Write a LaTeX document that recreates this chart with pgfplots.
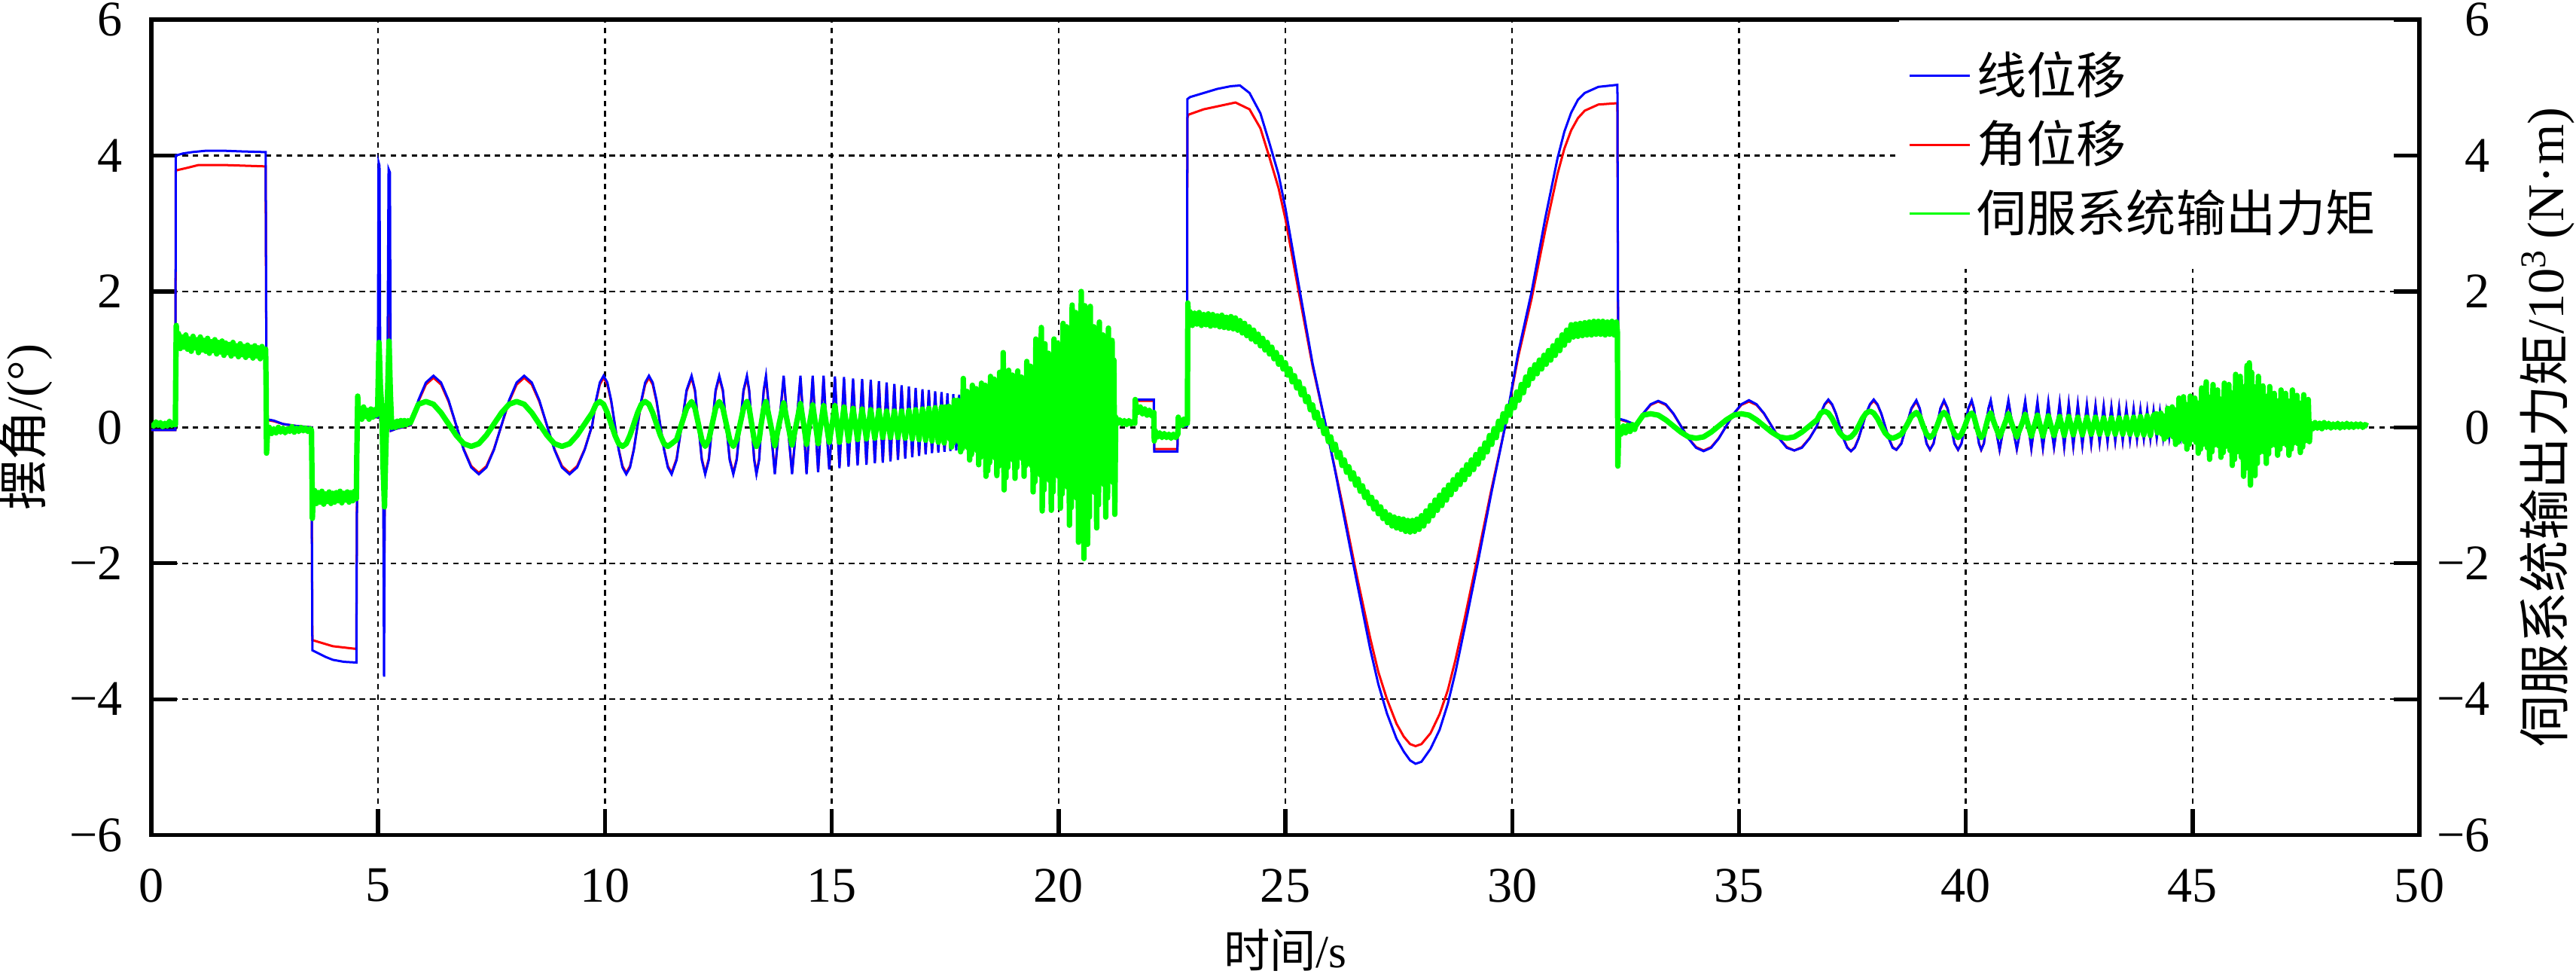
\documentclass[border=0pt]{standalone}
\usepackage{fontspec}
\setmainfont{Liberation Serif}
\newfontfamily\cjk{Noto Sans CJK SC}
\usepackage{pgfplots}
\pgfplotsset{compat=1.18}
\definecolor{cblue}{RGB}{0,0,255}
\definecolor{cred}{RGB}{255,0,0}
\definecolor{cgreen}{RGB}{0,255,0}
\begin{document}
\begin{tikzpicture}
\path[use as bounding box] (-1.175cm,-1.076cm) rectangle (18.826cm,6.482cm);
\begin{axis}[
  at={(0,0)}, anchor=south west,
  scale only axis, width=17.61cm, height=6.33cm,
  xmin=0, xmax=50, ymin=-6, ymax=6,
  xtick={0,5,...,50}, xticklabels={0,5,10,15,20,25,30,35,40,45,50},
  ytick={-6,-4,...,6}, yticklabels={−6,−4,−2,0,2,4,6},
  xtick pos=lower, ytick pos=left, tick align=inside,
  major tick length=0.2cm,
  axis line style={line width=0.9pt},
  every tick/.style={black, line width=0.9pt},
  grid=major,
  major grid style={black, line width=0.4pt, dash pattern=on 1.2pt off 1.1pt},
  tick label style={font=\fontsize{11}{13}\selectfont, inner sep=0pt},
  yticklabel style={xshift=-0.216cm},
  xticklabel style={yshift=-0.255cm},
  xlabel={{\cjk 时间}/s}, ylabel={{\cjk 摆角}/(°)},
  every axis x label/.style={at={(axis description cs:0.5,-0.1414)}, anchor=center, font=\fontsize{10.2}{12}\selectfont},
  every axis y label/.style={at={(axis description cs:-0.0551,0.5)}, anchor=center, rotate=90, font=\fontsize{11}{13}\selectfont},
  legend style={draw=none, fill=white, at={(1,1)}, anchor=north east, inner xsep=0.07cm, inner ysep=0.24cm, row sep=4.4pt, font=\cjk\fontsize{11}{13}\selectfont, nodes={inner ysep=0pt, inner xsep=0.045cm, font=\cjk\fontsize{11}{13}\selectfont}},
  legend cell align=left,
  legend image code/.code={\draw[#1] (0cm,0cm) -- (0.47cm,0cm);},
]
% red: angular displacement (drawn first, under blue)
\addplot[cred, line width=0.5pt, forget plot] coordinates {
(0,-0.04)(0.53,-0.04)(0.54,3.78)(0.8,3.82)(1.04,3.86)(1.6,3.86)(2.52,3.84)(2.54,0.11)(2.7,0.09)(2.9,0.05)(3.2,0.02)(3.53,0.0)(3.55,-3.13)(3.8,-3.18)(4.0,-3.22)(4.52,-3.26)(4.54,0.15)(4.99,0.15)(5.01,2.0)(5.03,1.9)(5.05,0.1)(5.11,-0.2)(5.13,-2.9)(5.15,-0.3)(5.2,0.0)(5.23,2.0)(5.26,1.9)(5.28,-0.05)(5.4,-0.02)
(5.72,0.03)(5.887,0.38)(6.053,0.63)(6.22,0.73)(6.387,0.63)(6.553,0.38)(6.72,0.03)(6.887,-0.32)(7.053,-0.57)(7.22,-0.67)(7.387,-0.57)(7.553,-0.32)
(7.72,0.03)(7.887,0.38)(8.053,0.63)(8.22,0.73)(8.387,0.63)(8.553,0.38)(8.72,0.03)(8.887,-0.32)(9.053,-0.57)(9.22,-0.67)(9.387,-0.57)(9.553,-0.32)
(9.72,0.03)(9.803,0.38)(9.887,0.63)(9.97,0.73)(10.053,0.63)(10.137,0.38)(10.22,0.03)(10.303,-0.32)(10.387,-0.57)(10.47,-0.67)(10.553,-0.57)(10.637,-0.32)
(10.72,0.03)(10.803,0.38)(10.887,0.63)(10.97,0.73)(11.053,0.63)(11.137,0.38)(11.22,0.03)(11.303,-0.32)(11.387,-0.57)(11.47,-0.67)
(11.58,-0.46)(11.69,0.03)(11.80,0.53)(11.91,0.73)(11.985,0.53)(12.06,0.03)(12.135,-0.46)(12.21,-0.67)(12.29,-0.46)(12.365,0.03)(12.44,0.53)(12.52,0.73)(12.60,0.53)(12.675,0.03)(12.75,-0.46)(12.83,-0.67)(12.905,-0.46)(12.98,0.03)(13.055,0.53)(13.13,0.73)(13.18,0.53)(13.235,0.03)(13.29,-0.46)(13.34,-0.67)(13.40,-0.46)(13.445,0.03)(13.50,0.53)(13.55,0.73)
(13.65,0.03)(13.745,-0.67)(13.84,0.03)(13.94,0.73)(14.03,0.03)(14.125,-0.67)(14.22,0.03)(14.31,0.73)(14.38,0.03)(14.445,-0.67)(14.51,0.03)(14.58,0.73)(14.64,0.03)(14.70,-0.64)(14.76,0.03)(14.82,0.73)(14.88,0.03)(14.945,-0.6)(15.01,0.03)
(15.07,0.72)(15.17,-0.58)(15.27,0.71)(15.37,-0.56)(15.47,0.69)(15.57,-0.54)(15.67,0.68)(15.765,-0.53)(15.86,0.67)(15.95,-0.51)(16.04,0.65)(16.125,-0.5)(16.21,0.63)(16.295,-0.48)(16.38,0.61)(16.46,-0.46)(16.54,0.59)(16.62,-0.44)(16.70,0.57)(16.775,-0.42)(16.85,0.55)(16.925,-0.4)(17.00,0.53)(17.07,-0.38)(17.14,0.52)(17.21,-0.36)(17.28,0.5)(17.35,-0.35)(17.42,0.49)(17.485,-0.34)(17.55,0.1)(21.0,0.07)(21.68,0.07)
(21.69,0.39)(22.1,0.39)(22.11,-0.32)(22.62,-0.32)(22.63,0.0)(22.83,0.02)
(22.84,4.55)(22.86,4.6)(23.2,4.68)(23.9,4.78)(24.21,4.68)(24.45,4.4)(24.65,3.97)(24.85,3.52)(25.0,3.07)(25.32,1.9)(25.6,0.9)(25.9,0.0)(26.28,-1.2)(26.58,-2.2)(26.87,-3.1)(27.05,-3.6)(27.24,-4.0)(27.45,-4.36)(27.61,-4.55)(27.75,-4.66)(27.87,-4.69)(28.0,-4.66)(28.2,-4.5)(28.4,-4.22)(28.58,-3.87)(28.75,-3.42)(28.95,-2.82)(29.24,-1.9)(29.54,-0.92)(29.84,0.0)(30.13,1.03)(30.43,1.9)(30.73,2.9)(31.0,3.73)(31.15,4.1)(31.3,4.37)(31.45,4.55)(31.6,4.66)(31.9,4.75)(32.32,4.77)(32.34,0.12)(32.5,0.09)
(32.72,0.04)(32.887,0.2)(33.053,0.33)(33.22,0.38)(33.387,0.33)(33.553,0.2)(33.72,0.02)(33.887,-0.16)(34.053,-0.29)(34.22,-0.34)(34.387,-0.29)(34.553,-0.16)
(34.72,0.02)(34.887,0.2)(35.053,0.33)(35.22,0.38)(35.387,0.33)(35.553,0.2)(35.72,0.02)(35.887,-0.16)(36.053,-0.29)(36.22,-0.34)(36.387,-0.29)(36.553,-0.16)
(36.72,0.02)(36.803,0.2)(36.887,0.33)(36.97,0.39)(37.053,0.33)(37.137,0.2)(37.22,0.02)(37.303,-0.16)(37.387,-0.29)(37.47,-0.35)(37.553,-0.29)(37.637,-0.16)
(37.72,0.02)(37.803,0.2)(37.887,0.33)(37.97,0.39)(38.053,0.33)(38.137,0.2)(38.22,0.02)(38.303,-0.16)(38.387,-0.29)(38.47,-0.33)
(38.58,-0.23)(38.69,0.02)(38.80,0.27)(38.91,0.38)(38.985,0.27)(39.06,0.02)(39.135,-0.23)(39.21,-0.33)(39.29,-0.23)(39.365,0.02)(39.44,0.27)(39.52,0.38)(39.60,0.27)(39.675,0.02)(39.75,-0.23)(39.83,-0.33)(39.905,-0.23)(39.98,0.02)(40.055,0.27)(40.13,0.38)(40.18,0.27)(40.235,0.02)(40.29,-0.23)(40.34,-0.33)(40.40,-0.23)(40.445,0.02)(40.50,0.27)(40.55,0.38)
(40.65,0.02)(40.745,-0.33)(40.84,0.02)(40.94,0.38)(41.03,0.02)(41.125,-0.32)(41.22,0.02)(41.31,0.37)(41.38,0.02)(41.445,-0.31)(41.51,0.02)(41.58,0.36)(41.64,0.02)(41.70,-0.3)(41.76,0.02)(41.82,0.35)(41.88,0.02)(41.945,-0.29)(42.01,0.02)
(42.07,0.35)(42.17,-0.28)(42.27,0.34)(42.37,-0.27)(42.47,0.33)(42.57,-0.26)(42.67,0.32)(42.765,-0.24)(42.86,0.31)(42.95,-0.22)(43.04,0.3)(43.125,-0.21)(43.21,0.29)(43.295,-0.2)(43.38,0.28)(43.46,-0.19)(43.54,0.27)(43.62,-0.18)(43.70,0.26)(43.775,-0.17)(43.85,0.25)(43.925,-0.16)(44.00,0.24)(44.07,-0.16)(44.14,0.23)(44.21,-0.15)(44.28,0.22)(44.35,-0.15)(44.42,0.21)(44.485,-0.14)(44.55,0.2)(44.615,-0.14)(44.68,0.19)(44.745,-0.13)(44.81,0.18)(44.875,-0.12)(44.94,0.14)(45.0,0.02)(48.86,0.02)
};
% blue: linear displacement
\addplot[cblue, line width=0.5pt, forget plot] coordinates {
(0,-0.04)(0.53,-0.04)(0.54,4.0)(0.7,4.03)(0.9,4.05)(1.2,4.07)(1.6,4.07)(2.0,4.06)(2.52,4.05)(2.54,0.12)(2.7,0.1)(2.9,0.05)(3.2,0.02)(3.53,0.0)(3.55,-3.28)(3.7,-3.33)(3.85,-3.38)(4.0,-3.42)(4.25,-3.45)(4.52,-3.46)(4.54,0.15)(4.99,0.15)(5.01,3.9)(5.03,3.85)(5.05,0.1)(5.11,-0.2)(5.13,-3.67)(5.15,-0.4)(5.2,0.0)(5.23,3.8)(5.26,3.75)(5.28,-0.05)(5.4,-0.02)
(5.72,0.035)(5.887,0.40)(6.053,0.66)(6.22,0.76)(6.387,0.66)(6.553,0.40)(6.72,0.035)(6.887,-0.33)(7.053,-0.59)(7.22,-0.69)(7.387,-0.59)(7.553,-0.33)
(7.72,0.035)(7.887,0.40)(8.053,0.66)(8.22,0.76)(8.387,0.66)(8.553,0.40)(8.72,0.035)(8.887,-0.33)(9.053,-0.59)(9.22,-0.69)(9.387,-0.59)(9.553,-0.33)
(9.72,0.035)(9.803,0.40)(9.887,0.66)(9.97,0.76)(10.053,0.66)(10.137,0.40)(10.22,0.035)(10.303,-0.33)(10.387,-0.59)(10.47,-0.69)(10.553,-0.59)(10.637,-0.33)
(10.72,0.035)(10.803,0.40)(10.887,0.66)(10.97,0.76)(11.053,0.66)(11.137,0.40)(11.22,0.035)(11.303,-0.33)(11.387,-0.59)(11.47,-0.69)
(11.58,-0.48)(11.69,0.035)(11.80,0.55)(11.91,0.76)(11.985,0.55)(12.06,0.035)(12.135,-0.48)(12.21,-0.69)(12.29,-0.48)(12.365,0.035)(12.44,0.55)(12.52,0.76)(12.60,0.55)(12.675,0.035)(12.75,-0.48)(12.83,-0.69)(12.905,-0.48)(12.98,0.035)(13.055,0.55)(13.13,0.76)(13.18,0.55)(13.235,0.035)(13.29,-0.48)(13.34,-0.69)(13.40,-0.48)(13.445,0.035)(13.50,0.55)(13.55,0.76)
(13.65,0.035)(13.745,-0.69)(13.84,0.035)(13.94,0.76)(14.03,0.035)(14.125,-0.69)(14.22,0.035)(14.31,0.76)(14.38,0.035)(14.445,-0.69)(14.51,0.035)(14.58,0.76)(14.64,0.035)(14.70,-0.66)(14.76,0.035)(14.82,0.76)(14.88,0.035)(14.945,-0.62)(15.01,0.035)
(15.07,0.75)(15.17,-0.60)(15.27,0.74)(15.37,-0.58)(15.47,0.72)(15.57,-0.56)(15.67,0.71)(15.765,-0.55)(15.86,0.70)(15.95,-0.53)(16.04,0.68)(16.125,-0.52)(16.21,0.66)(16.295,-0.50)(16.38,0.64)(16.46,-0.48)(16.54,0.62)(16.62,-0.46)(16.70,0.60)(16.775,-0.44)(16.85,0.58)(16.925,-0.42)(17.00,0.56)(17.07,-0.40)(17.14,0.55)(17.21,-0.38)(17.28,0.53)(17.35,-0.37)(17.42,0.52)(17.485,-0.36)(17.55,0.50)(17.615,-0.35)(17.68,0.49)(17.745,-0.34)(17.81,0.48)(17.875,-0.33)(17.94,0.47)(18.00,-0.32)(18.06,0.46)(18.12,-0.31)(18.18,0.45)(18.24,-0.30)(18.30,0.44)(18.36,-0.30)(18.42,0.43)(18.48,-0.29)(18.54,0.42)(18.60,-0.28)(18.66,0.41)(18.72,-0.28)(18.78,0.40)(18.84,-0.27)(18.90,0.39)(18.96,-0.26)(19.02,0.38)(19.08,-0.25)(19.14,0.37)(19.20,-0.24)(19.26,0.35)(19.32,-0.23)(19.38,0.33)(19.44,-0.22)(19.50,0.30)(19.56,-0.2)(19.62,0.28)(19.68,-0.18)(19.74,0.25)(19.8,-0.16)(19.9,0.2)(20.0,-0.12)(20.1,0.18)(20.2,-0.1)(20.3,0.15)(20.4,-0.08)(20.5,0.14)(20.6,-0.06)(20.8,0.1)(21.0,0.04)(21.3,0.07)(21.68,0.07)
(21.69,0.41)(22.1,0.41)(22.11,-0.355)(22.62,-0.355)(22.63,0.0)(22.83,0.02)
(22.84,4.83)(22.9,4.86)(23.2,4.92)(23.5,4.98)(23.8,5.02)(24.0,5.03)(24.21,4.92)(24.45,4.62)(24.65,4.18)(24.85,3.72)(25.0,3.23)(25.32,2.0)(25.6,0.94)(25.9,0.0)(26.1,-0.65)(26.28,-1.27)(26.58,-2.29)(26.87,-3.26)(27.05,-3.78)(27.24,-4.21)(27.45,-4.58)(27.61,-4.77)(27.75,-4.9)(27.87,-4.95)(28.0,-4.92)(28.2,-4.73)(28.4,-4.45)(28.58,-4.07)(28.75,-3.6)(28.95,-2.96)(29.24,-2.0)(29.54,-0.97)(29.84,0.0)(30.13,1.09)(30.43,2.0)(30.73,3.08)(31.0,3.96)(31.15,4.35)(31.3,4.63)(31.45,4.82)(31.6,4.92)(31.9,5.01)(32.32,5.04)
(32.34,0.13)(32.5,0.1)
(32.72,0.04)(32.887,0.205)(33.053,0.34)(33.22,0.39)(33.387,0.34)(33.553,0.205)(33.72,0.02)(33.887,-0.165)(34.053,-0.30)(34.22,-0.35)(34.387,-0.30)(34.553,-0.165)
(34.72,0.02)(34.887,0.205)(35.053,0.34)(35.22,0.40)(35.387,0.34)(35.553,0.205)(35.72,0.02)(35.887,-0.165)(36.053,-0.30)(36.22,-0.34)(36.387,-0.30)(36.553,-0.165)
(36.72,0.02)(36.803,0.205)(36.887,0.34)(36.97,0.41)(37.053,0.34)(37.137,0.205)(37.22,0.02)(37.303,-0.165)(37.387,-0.30)(37.47,-0.35)(37.553,-0.30)(37.637,-0.165)
(37.72,0.02)(37.803,0.205)(37.887,0.34)(37.97,0.41)(38.053,0.34)(38.137,0.205)(38.22,0.02)(38.303,-0.165)(38.387,-0.30)(38.47,-0.33)
(38.58,-0.24)(38.69,0.02)(38.80,0.28)(38.91,0.40)(38.985,0.28)(39.06,0.02)(39.135,-0.24)(39.21,-0.33)(39.29,-0.24)(39.365,0.02)(39.44,0.28)(39.52,0.40)(39.60,0.28)(39.675,0.02)(39.75,-0.24)(39.83,-0.33)(39.905,-0.24)(39.98,0.02)(40.055,0.28)(40.13,0.40)(40.18,0.28)(40.235,0.02)(40.29,-0.24)(40.34,-0.33)(40.40,-0.24)(40.445,0.02)(40.50,0.28)(40.55,0.40)
(40.65,0.02)(40.745,-0.33)(40.84,0.02)(40.94,0.40)(41.03,0.02)(41.125,-0.32)(41.22,0.02)(41.31,0.39)(41.38,0.02)(41.445,-0.31)(41.51,0.02)(41.58,0.38)(41.64,0.02)(41.70,-0.30)(41.76,0.02)(41.82,0.37)(41.88,0.02)(41.945,-0.29)(42.01,0.02)
(42.07,0.36)(42.17,-0.28)(42.27,0.35)(42.37,-0.27)(42.47,0.34)(42.57,-0.26)(42.67,0.33)(42.765,-0.24)(42.86,0.32)(42.95,-0.22)(43.04,0.31)(43.125,-0.21)(43.21,0.30)(43.295,-0.20)(43.38,0.29)(43.46,-0.19)(43.54,0.28)(43.62,-0.18)(43.70,0.27)(43.775,-0.17)(43.85,0.26)(43.925,-0.16)(44.00,0.25)(44.07,-0.16)(44.14,0.24)(44.21,-0.15)(44.28,0.23)(44.35,-0.15)(44.42,0.22)(44.485,-0.14)(44.55,0.21)(44.615,-0.14)(44.68,0.20)(44.745,-0.13)(44.81,0.19)(44.875,-0.12)(44.94,0.15)(45.0,0.02)(48.86,0.02)
};
% green: servo output torque
\addplot[cgreen, line width=1.2pt, line join=round, forget plot] coordinates {
(0,0.06)(0.05,0.02)(0.1,0.08)(0.15,0.03)(0.2,0.07)(0.25,0.01)(0.3,0.06)(0.35,0.02)(0.4,0.09)(0.45,0.03)(0.5,0.07)(0.53,0.04)(0.54,0.9)(0.55,1.5)(0.57,1.2)
(0.60,1.38)(0.64,1.16)(0.68,1.33)(0.72,1.18)(0.76,1.36)(0.80,1.15)(0.84,1.30)(0.88,1.12)(0.92,1.34)(0.96,1.17)(1.00,1.29)(1.04,1.10)(1.08,1.33)(1.12,1.14)(1.16,1.28)(1.20,1.12)(1.24,1.31)(1.28,1.09)(1.32,1.26)(1.36,1.13)(1.40,1.29)(1.44,1.08)(1.48,1.25)(1.52,1.11)(1.56,1.27)(1.60,1.06)(1.64,1.24)(1.68,1.10)(1.72,1.22)(1.76,1.05)(1.80,1.25)(1.84,1.08)(1.88,1.20)(1.92,1.04)(1.96,1.23)(2.00,1.07)(2.04,1.19)(2.08,1.03)(2.12,1.21)(2.16,1.06)(2.20,1.18)(2.24,1.02)(2.28,1.20)(2.32,1.05)(2.36,1.17)(2.40,1.01)(2.44,1.19)(2.48,1.04)(2.52,1.15)
(2.53,0.6)(2.54,-0.38)(2.56,-0.1)
(2.60,0.0)(2.65,-0.09)(2.70,-0.02)(2.75,-0.08)(2.80,0.0)(2.85,-0.07)(2.90,-0.01)(2.95,-0.08)(3.00,-0.02)(3.05,-0.06)(3.10,0.01)(3.15,-0.07)(3.20,-0.01)(3.25,-0.06)(3.30,0.0)(3.35,-0.05)(3.40,-0.01)(3.45,-0.06)(3.50,-0.02)(3.53,-0.04)
(3.54,-0.6)(3.55,-1.34)(3.57,-1.0)
(3.60,-0.93)(3.64,-1.12)(3.68,-0.96)(3.72,-1.10)(3.76,-0.94)(3.80,-1.13)(3.84,-0.98)(3.88,-1.09)(3.92,-0.95)(3.96,-1.12)(4.00,-0.97)(4.04,-1.10)(4.08,-0.96)(4.12,-1.08)(4.16,-0.94)(4.20,-1.11)(4.24,-0.97)(4.28,-1.07)(4.32,-0.95)(4.36,-1.10)(4.40,-0.96)(4.44,-1.08)(4.48,-0.94)(4.52,-1.05)
(4.53,-0.4)(4.55,0.46)(4.57,0.15)
(4.60,0.28)(4.64,0.12)(4.68,0.30)(4.72,0.16)(4.76,0.25)(4.80,0.12)(4.84,0.27)(4.88,0.15)(4.92,0.26)(4.96,0.18)(4.99,0.3)
(5.02,1.25)(5.05,0.6)(5.08,0.3)(5.11,-0.6)(5.14,-1.17)(5.17,-0.3)(5.2,0.3)(5.24,1.27)(5.27,0.5)(5.3,0.0)
(5.34,0.08)(5.38,0.0)(5.42,0.09)(5.46,0.02)(5.50,0.1)(5.54,0.03)(5.58,0.1)(5.62,0.04)(5.66,0.1)(5.70,0.06)
(5.72,0.08)(5.887,0.34)(6.053,0.38)(6.22,0.34)(6.387,0.215)(6.553,0.05)(6.72,-0.115)(6.887,-0.24)(7.053,-0.28)(7.22,-0.24)(7.387,-0.115)(7.553,0.05)
(7.72,0.215)(7.887,0.34)(8.053,0.38)(8.22,0.34)(8.387,0.215)(8.553,0.05)(8.72,-0.115)(8.887,-0.24)(9.053,-0.28)(9.22,-0.24)(9.387,-0.115)(9.553,0.05)
(9.72,0.215)(9.803,0.34)(9.887,0.38)(9.97,0.34)(10.053,0.215)(10.137,0.05)(10.22,-0.115)(10.303,-0.24)(10.387,-0.28)(10.47,-0.24)(10.553,-0.115)(10.637,0.05)
(10.72,0.215)(10.803,0.34)(10.887,0.38)(10.97,0.34)(11.053,0.215)(11.137,0.05)(11.22,-0.115)(11.303,-0.24)(11.387,-0.28)(11.47,-0.24)
(11.58,-0.18)(11.69,0.05)(11.80,0.28)(11.91,0.38)(11.985,0.28)(12.06,0.05)(12.135,-0.18)(12.21,-0.28)(12.29,-0.18)(12.365,0.05)(12.44,0.28)(12.52,0.38)(12.60,0.28)(12.675,0.05)(12.75,-0.18)(12.83,-0.28)(12.905,-0.18)(12.98,0.05)(13.055,0.28)(13.13,0.38)(13.18,0.28)(13.235,0.05)(13.29,-0.18)(13.34,-0.28)(13.40,-0.18)(13.445,0.05)(13.50,0.28)(13.55,0.38)
(13.65,0.05)(13.745,-0.27)(13.84,0.05)(13.94,0.36)(14.03,0.05)(14.125,-0.26)(14.22,0.05)(14.31,0.35)(14.38,0.05)(14.445,-0.25)(14.51,0.05)(14.58,0.33)(14.64,0.05)(14.70,-0.24)(14.76,0.05)(14.82,0.32)(14.88,0.05)(14.945,-0.22)(15.01,0.05)
(15.07,0.32)(15.17,-0.22)(15.27,0.3)(15.37,-0.2)(15.47,0.28)(15.57,-0.18)(15.67,0.27)(15.765,-0.17)(15.86,0.26)(15.95,-0.16)(16.04,0.25)(16.125,-0.15)(16.21,0.24)(16.295,-0.15)(16.38,0.24)(16.46,-0.15)(16.54,0.24)(16.62,-0.16)(16.70,0.25)(16.775,-0.17)(16.85,0.26)(16.925,-0.18)(17.00,0.27)(17.07,-0.19)(17.14,0.28)(17.21,-0.2)(17.28,0.29)(17.35,-0.22)(17.42,0.3)(17.48,-0.23)
(17.50,0.30)(17.52,-0.14)(17.54,0.26)(17.56,-0.12)(17.58,0.31)(17.60,-0.17)(17.62,0.25)(17.64,-0.29)(17.66,0.19)(17.68,-0.23)(17.70,0.40)(17.72,-0.18)(17.74,0.34)(17.76,-0.15)(17.78,0.40)(17.80,-0.21)(17.82,0.33)(17.84,-0.36)(17.86,0.25)(17.88,-0.31)(17.90,0.72)(17.92,-0.24)(17.94,0.45)(17.96,-0.21)(17.98,0.53)(18.00,-0.30)(18.02,0.42)(18.04,-0.48)(18.06,0.31)(18.08,-0.40)(18.10,0.62)(18.12,-0.30)(18.14,0.50)(18.16,-0.25)(18.18,0.57)(18.20,-0.34)(18.22,0.45)(18.24,-0.55)(18.26,0.32)(18.28,-0.44)(18.30,0.65)(18.32,-0.34)(18.34,0.54)(18.36,-0.28)(18.38,0.62)(18.40,-0.72)(18.42,0.50)(18.44,-0.64)(18.46,0.37)(18.48,-0.52)(18.50,0.75)(18.52,-0.39)(18.54,0.62)(18.56,-0.33)(18.58,0.71)(18.60,-0.45)(18.62,0.56)(18.64,-0.71)(18.66,0.40)(18.68,-0.57)(18.70,0.81)(18.72,-0.42)(18.74,0.66)(18.76,-0.35)(18.78,1.10)(18.80,-0.92)(18.82,0.58)(18.84,-0.74)(18.86,0.42)(18.88,-0.59)(18.90,0.84)(18.92,-0.43)(18.94,0.67)(18.96,-0.36)(18.98,0.77)(19.00,-0.48)(19.02,0.59)(19.04,-0.75)(19.06,0.42)(19.08,-0.59)(19.10,0.83)(19.12,-0.43)(19.14,0.66)(19.16,-0.35)(19.18,0.74)(19.20,-0.46)(19.22,0.57)(19.24,-0.72)(19.26,0.41)(19.28,-0.56)(19.30,0.97)(19.32,-0.43)(19.34,0.72)(19.36,-0.39)(19.38,0.90)(19.40,-0.56)(19.42,0.77)(19.44,-0.95)(19.46,0.60)(19.48,-0.80)(19.50,1.30)(19.52,-0.61)(19.54,1.03)(19.56,-0.51)(19.58,1.14)(19.60,-0.70)(19.62,1.47)(19.64,-1.23)(19.66,0.63)(19.68,-0.92)(19.70,1.23)(19.72,-0.69)(19.74,0.98)(19.76,-0.57)(19.78,1.09)(19.80,-0.78)(19.82,0.85)(19.84,-1.22)(19.86,0.63)(19.88,-0.95)(19.90,1.30)(19.92,-0.68)(19.94,1.07)(19.96,-0.55)(19.98,1.24)(20.00,-0.72)(20.02,1.00)(20.04,-1.19)(20.06,0.74)(20.08,-0.98)(20.10,1.53)(20.12,-0.75)(20.14,1.27)(20.16,-0.63)(20.18,1.48)(20.20,-0.88)(20.22,1.18)(20.24,-1.44)(20.26,0.88)(20.28,-1.18)(20.30,1.80)(20.32,-0.90)(20.34,1.47)(20.36,-0.76)(20.38,1.69)(20.40,-1.04)(20.42,1.34)(20.44,-1.69)(20.46,0.98)(20.48,-1.38)(20.50,2.00)(20.52,-1.04)(20.54,1.63)(20.56,-1.93)(20.58,1.79)(20.60,-1.12)(20.62,1.34)(20.64,-1.72)(20.66,0.93)(20.68,-1.32)(20.70,1.78)(20.72,-0.94)(20.74,1.37)(20.76,-0.74)(20.78,1.48)(20.80,-0.96)(20.82,1.11)(20.84,-1.48)(20.86,0.79)(20.88,-1.14)(20.90,1.55)(20.92,-0.81)(20.94,1.22)(20.96,-0.65)(20.98,1.36)(21.00,-0.84)(21.02,1.04)(21.04,-1.32)(21.06,0.74)(21.08,-1.04)(21.10,1.46)(21.12,-0.75)(21.14,1.15)(21.16,-0.61)(21.18,1.28)(21.20,-0.81)(21.22,0.99)(21.24,-1.28)
(21.26,0.15)(21.3,0.06)(21.35,0.11)(21.4,0.05)(21.45,0.1)(21.5,0.04)(21.55,0.1)(21.6,0.05)(21.65,0.09)(21.68,0.06)
(21.69,0.41)(21.71,0.3)(21.75,0.22)(21.8,0.3)(21.85,0.2)(21.9,0.27)(21.95,0.18)(22.0,0.25)(22.05,0.17)(22.1,0.22)
(22.11,-0.2)(22.13,-0.05)(22.18,-0.14)(22.23,-0.08)(22.28,-0.15)(22.33,-0.09)(22.38,-0.15)(22.43,-0.1)(22.48,-0.16)(22.53,-0.1)(22.58,-0.15)(22.63,-0.1)
(22.64,0.15)(22.67,0.04)(22.7,0.1)(22.73,0.03)(22.76,0.12)(22.79,0.05)(22.82,0.1)(22.84,0.06)
(22.85,1.83)(22.87,1.5)
(22.90,1.70)(22.95,1.50)(23.00,1.68)(23.05,1.52)(23.10,1.69)(23.15,1.50)(23.20,1.66)(23.25,1.51)(23.30,1.67)(23.35,1.49)(23.40,1.66)(23.45,1.50)(23.50,1.64)(23.55,1.48)(23.60,1.65)(23.65,1.47)(23.70,1.62)(23.75,1.46)(23.80,1.63)(23.85,1.45)(23.90,1.61)(23.95,1.43)
(24.00,1.57)(24.05,1.39)(24.10,1.53)(24.15,1.35)(24.20,1.48)(24.25,1.30)(24.30,1.43)(24.35,1.26)(24.40,1.37)(24.45,1.20)(24.50,1.31)(24.55,1.14)(24.60,1.25)(24.65,1.08)(24.70,1.18)(24.75,1.01)(24.80,1.10)(24.85,0.93)(24.90,1.03)(24.95,0.86)
(25.00,0.95)(25.05,0.77)(25.10,0.86)(25.15,0.67)(25.20,0.76)(25.25,0.58)(25.30,0.67)(25.35,0.48)(25.40,0.57)(25.45,0.38)(25.50,0.45)(25.55,0.26)(25.60,0.33)(25.65,0.14)(25.70,0.22)(25.75,0.03)(25.80,0.10)(25.85,-0.09)(25.90,-0.02)(25.95,-0.21)
(26.00,-0.14)(26.05,-0.33)(26.10,-0.25)(26.15,-0.44)(26.20,-0.37)(26.25,-0.56)(26.30,-0.48)(26.35,-0.66)(26.40,-0.58)(26.45,-0.76)(26.50,-0.67)(26.55,-0.85)(26.60,-0.76)(26.65,-0.94)(26.70,-0.86)(26.75,-1.03)(26.80,-0.95)(26.85,-1.12)(26.90,-1.03)(26.95,-1.20)
(27.00,-1.10)(27.05,-1.27)(27.10,-1.17)(27.15,-1.34)(27.20,-1.24)(27.25,-1.40)(27.30,-1.29)(27.35,-1.45)(27.40,-1.32)(27.45,-1.48)(27.50,-1.34)(27.55,-1.50)(27.60,-1.35)(27.65,-1.53)(27.70,-1.37)(27.75,-1.54)(27.80,-1.37)(27.85,-1.53)(27.90,-1.35)(27.95,-1.50)
(28.00,-1.30)(28.05,-1.45)(28.10,-1.23)(28.15,-1.38)(28.20,-1.15)(28.25,-1.30)(28.30,-1.07)(28.35,-1.22)(28.40,-1.00)(28.45,-1.15)(28.50,-0.92)(28.55,-1.07)(28.60,-0.85)(28.65,-0.99)(28.70,-0.77)(28.75,-0.91)(28.80,-0.70)(28.85,-0.84)(28.90,-0.63)(28.95,-0.77)
(29.00,-0.55)(29.05,-0.69)(29.10,-0.48)(29.15,-0.62)(29.20,-0.40)(29.25,-0.54)(29.30,-0.32)(29.35,-0.45)(29.40,-0.23)(29.45,-0.36)(29.50,-0.12)(29.55,-0.25)(29.60,-0.02)(29.65,-0.15)(29.70,0.09)(29.75,-0.03)(29.80,0.20)(29.85,0.08)(29.90,0.31)(29.95,0.18)
(30.00,0.41)(30.05,0.29)(30.10,0.52)(30.15,0.40)(30.20,0.63)(30.25,0.51)(30.30,0.74)(30.35,0.62)(30.40,0.85)(30.45,0.72)(30.50,0.92)(30.55,0.79)(30.60,0.99)(30.65,0.86)(30.70,1.06)(30.75,0.93)(30.80,1.13)(30.85,0.99)(30.90,1.20)(30.95,1.06)
(31.00,1.28)(31.05,1.13)(31.10,1.36)(31.15,1.21)(31.20,1.43)(31.25,1.28)(31.30,1.51)(31.35,1.33)(31.40,1.52)(31.45,1.34)(31.50,1.53)(31.55,1.35)(31.60,1.54)(31.65,1.36)(31.70,1.55)(31.75,1.36)(31.80,1.56)(31.85,1.37)(31.90,1.56)(31.95,1.37)
(32.00,1.56)(32.05,1.36)(32.10,1.55)(32.15,1.37)(32.20,1.56)(32.25,1.36)(32.30,1.55)(32.32,1.40)
(32.33,-0.57)(32.35,0.0)(32.4,-0.1)(32.45,0.02)(32.5,-0.08)(32.55,0.03)(32.6,-0.06)(32.65,0.04)(32.7,-0.03)
(32.72,0.02)(32.887,0.18)(33.053,0.20)(33.22,0.18)(33.387,0.11)(33.553,0.02)(33.72,-0.07)(33.887,-0.14)(34.053,-0.16)(34.22,-0.14)(34.387,-0.07)(34.553,0.02)
(34.72,0.11)(34.887,0.18)(35.053,0.20)(35.22,0.18)(35.387,0.11)(35.553,0.02)(35.72,-0.07)(35.887,-0.14)(36.053,-0.16)(36.22,-0.14)(36.387,-0.07)(36.553,0.02)
(36.72,0.11)(36.803,0.21)(36.887,0.24)(36.97,0.21)(37.053,0.13)(37.137,0.02)(37.22,-0.08)(37.303,-0.14)(37.387,-0.16)(37.47,-0.14)(37.553,-0.08)(37.637,0.02)
(37.72,0.13)(37.803,0.21)(37.887,0.24)(37.97,0.21)(38.053,0.13)(38.137,0.02)(38.22,-0.08)(38.303,-0.14)(38.387,-0.16)(38.47,-0.14)
(38.58,-0.10)(38.69,0.02)(38.80,0.16)(38.91,0.22)(38.985,0.16)(39.06,0.02)(39.135,-0.10)(39.21,-0.15)(39.29,-0.10)(39.365,0.02)(39.44,0.16)(39.52,0.22)(39.60,0.16)(39.675,0.02)(39.75,-0.10)(39.83,-0.15)(39.905,-0.10)(39.98,0.02)(40.055,0.16)(40.13,0.21)(40.18,0.16)(40.235,0.02)(40.29,-0.10)(40.34,-0.15)(40.40,-0.10)(40.445,0.02)(40.50,0.16)(40.55,0.21)
(40.65,0.02)(40.745,-0.14)(40.84,0.02)(40.94,0.2)(41.03,0.02)(41.125,-0.14)(41.22,0.02)(41.31,0.19)(41.38,0.02)(41.445,-0.13)(41.51,0.02)(41.58,0.18)(41.64,0.02)(41.70,-0.13)(41.76,0.02)(41.82,0.17)(41.88,0.02)(41.945,-0.12)(42.01,0.02)
(42.07,0.16)(42.17,-0.12)(42.27,0.16)(42.37,-0.11)(42.47,0.15)(42.57,-0.11)(42.67,0.15)(42.765,-0.1)(42.86,0.15)(42.95,-0.1)(43.04,0.14)(43.125,-0.1)(43.21,0.14)(43.295,-0.1)(43.38,0.14)(43.46,-0.1)(43.54,0.15)(43.62,-0.1)(43.70,0.15)(43.775,-0.11)(43.85,0.16)(43.925,-0.11)(44.00,0.17)(44.07,-0.12)(44.14,0.18)
(44.200,0.20)(44.225,-0.08)(44.250,0.17)(44.275,-0.07)(44.300,0.21)(44.325,-0.10)(44.350,0.17)(44.375,-0.17)(44.400,0.13)(44.425,-0.14)(44.450,0.28)(44.475,-0.11)(44.500,0.24)(44.525,-0.10)(44.550,0.30)(44.575,-0.14)(44.600,0.26)(44.625,-0.25)(44.650,0.20)(44.675,-0.22)(44.700,0.43)(44.725,-0.17)(44.750,0.38)(44.775,-0.15)(44.800,0.45)(44.825,-0.21)(44.850,0.34)(44.875,-0.32)(44.900,0.24)(44.925,-0.25)(44.950,0.46)(44.975,-0.18)
(45.000,0.36)(45.025,-0.15)(45.050,0.43)(45.075,-0.22)(45.100,0.36)(45.125,-0.38)(45.150,0.28)(45.175,-0.32)(45.200,0.58)(45.225,-0.25)(45.250,0.50)(45.275,-0.22)(45.300,0.67)(45.325,-0.30)(45.350,0.45)(45.375,-0.47)(45.400,0.32)(45.425,-0.36)(45.450,0.63)(45.475,-0.26)(45.500,0.50)(45.525,-0.21)(45.550,0.55)(45.575,-0.27)(45.600,0.42)(45.625,-0.44)(45.650,0.31)(45.675,-0.37)(45.700,0.65)(45.725,-0.28)(45.750,0.54)(45.775,-0.24)(45.800,0.63)(45.825,-0.34)(45.850,0.51)(45.875,-0.56)(45.900,0.38)(45.925,-0.47)(45.950,0.78)(45.975,-0.36)
(46.000,0.64)(46.025,-0.31)(46.050,0.75)(46.075,-0.44)(46.100,0.60)(46.125,-0.72)(46.150,0.44)(46.175,-0.60)(46.200,0.91)(46.225,-0.46)(46.250,0.95)(46.275,-0.85)(46.300,0.81)(46.325,-0.47)(46.350,0.60)(46.375,-0.71)(46.400,0.40)(46.425,-0.53)(46.450,0.75)(46.475,-0.37)(46.500,0.56)(46.525,-0.28)(46.550,0.61)(46.575,-0.36)(46.600,0.46)(46.625,-0.53)(46.650,0.31)(46.675,-0.39)(46.700,0.60)(46.725,-0.27)(46.750,0.46)(46.775,-0.20)(46.800,0.50)(46.825,-0.26)(46.850,0.39)(46.875,-0.41)(46.900,0.28)(46.925,-0.32)(46.950,0.55)(46.975,-0.24)
(47.000,0.44)(47.025,-0.19)(47.050,0.50)(47.075,-0.26)(47.100,0.39)(47.125,-0.41)(47.150,0.28)(47.175,-0.32)(47.200,0.55)(47.225,-0.23)(47.250,0.43)(47.275,-0.18)(47.300,0.47)(47.325,-0.24)(47.350,0.36)(47.375,-0.37)(47.400,0.25)(47.425,-0.29)(47.450,0.48)(47.475,-0.20)(47.500,0.38)(47.525,-0.16)(47.550,0.41)(47.575,-0.21)
(47.6,0.06)(47.65,-0.02)(47.7,0.07)(47.75,-0.01)(47.8,0.06)(47.85,-0.02)(47.9,0.07)(47.95,0.0)(48.0,0.06)(48.05,-0.01)(48.1,0.05)(48.15,0.0)(48.2,0.06)(48.25,-0.01)(48.3,0.05)(48.35,0.0)(48.4,0.06)(48.45,0.0)(48.5,0.05)(48.55,0.0)(48.6,0.05)(48.65,0.01)(48.7,0.05)(48.75,0.0)(48.8,0.04)(48.86,0.02)
};
\addlegendimage{cblue, line width=0.5pt}
\addlegendentry{线位移}
\addlegendimage{cred, line width=0.5pt}
\addlegendentry{角位移}
\addlegendimage{cgreen, line width=0.5pt}
\addlegendentry{伺服系统输出力矩\hspace*{0.22cm}}
\end{axis}
\begin{axis}[
  at={(0,0)}, anchor=south west,
  scale only axis, width=17.61cm, height=6.33cm,
  xmin=0, xmax=50, ymin=-6, ymax=6,
  axis x line=none, axis y line*=right,
  ytick={-6,-4,...,6}, yticklabels={−6,−4,−2,0,2,4,6},
  tick align=inside, major tick length=0.2cm,
  axis line style={line width=0.9pt},
  every tick/.style={black, line width=0.9pt},
  tick label style={font=\fontsize{11}{13}\selectfont, inner sep=0pt},
  yticklabel style={anchor=east, xshift=0.555cm},
  ylabel={{\cjk 伺服系统输出力矩}/10\textsuperscript{3}\,(N\kern0.3pt·\kern0.3pt m)},
  every axis y label/.style={at={(axis description cs:1.0564,0.5)}, anchor=center, rotate=90, font=\fontsize{11.4}{13}\selectfont},
]
\end{axis}
\end{tikzpicture}
\end{document}
